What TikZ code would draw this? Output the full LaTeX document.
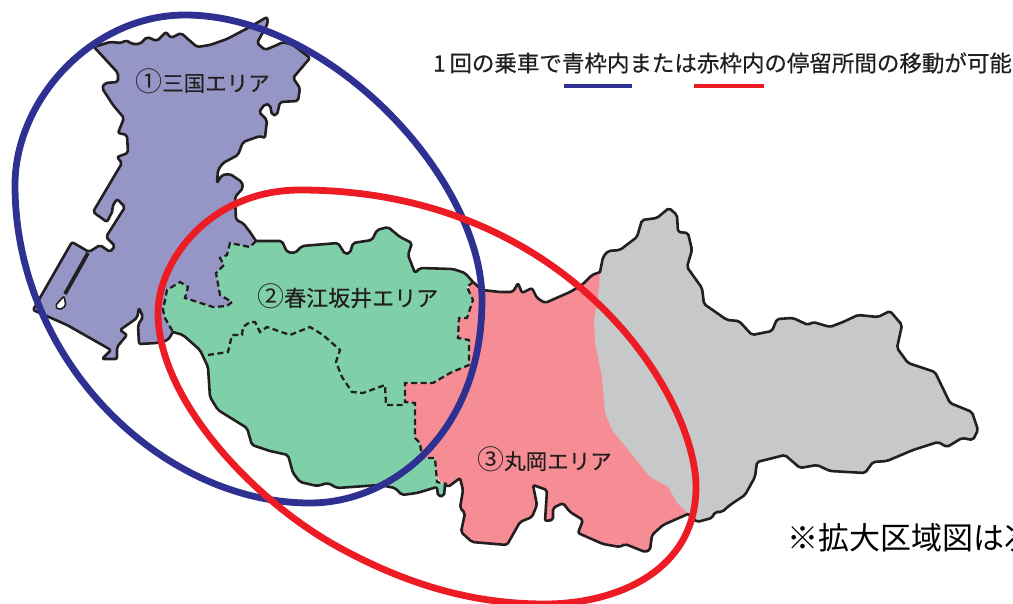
\documentclass[tikz,border=0pt]{standalone}
\usepackage{fontspec}
\setmainfont{Noto Sans CJK JP}
\newfontfamily\cjk{Noto Sans CJK JP}
\newfontfamily\cjkheavy[FakeBold=0.5]{Noto Sans CJK JP}
\definecolor{ringblue}{HTML}{2E3192}
\definecolor{ringred}{HTML}{ED1C24}
\definecolor{purplearea}{HTML}{9696C6}
\definecolor{greenarea}{HTML}{7FD0A8}
\definecolor{pinkarea}{HTML}{F78D94}
\definecolor{greyarea}{HTML}{C7C8CA}
\definecolor{ink}{HTML}{231F20}
\def\Ptop{(94,47) -- (110,42) -- (122,43) -- (126,40) -- (132,44) -- (140,44) -- (147,37) -- (157,41) -- (166,32) -- (171,38) -- (181,33) -- (197,47) -- (210,45) -- (227,39) -- (248,28) -- (267,17) -- (268,23) -- (257,43) -- (265,50) -- (277,45) -- (283,42) -- (293,45) -- (310,58) -- (293,78) -- (300,88) -- (298,101) -- (280,102) -- (277,115) -- (272,115) -- (270,105) -- (265,104) -- (259,112) -- (267,120) -- (265,138) -- (260,136) -- (243,142) -- (238,155) -- (223,163) -- (218,170) -- (217,183) -- (222,175) -- (230,174) -- (242,182) -- (243,188) -- (235,197) -- (236,220) -- (243,223) -- (250,232) -- (256,241)}
\def\Pdash{(256,241) -- (250,247) -- (230,243) -- (227,255) -- (220,258) -- (224,265) -- (216,273) -- (220,295) -- (232,302) -- (227,306) -- (213,307) -- (185,298) -- (188,287) -- (180,282) -- (167,290) -- (163,310) -- (165,318) -- (173,332)}
\def\Plow{(173,332) -- (168,340) -- (157,343) -- (139,344) -- (138,325) -- (143,317) -- (139,308) -- (137,318) -- (120,330) -- (127,335) -- (117,347) -- (117,359) -- (102,359) -- (111,350) -- (97,342) -- (67,325) -- (33,310) -- (72,242) -- (89,252) -- (100,245) -- (110,252) -- (115,246) -- (106,237) -- (125,207) -- (117,199) -- (112,207) -- (113,210) -- (107,222) -- (93,212) -- (122,163) -- (117,157) -- (128,153) -- (127,135) -- (118,133) -- (124,118) -- (113,105) -- (102,88) -- (105,83) -- (118,82) -- (118,73) -- (94,47)}
\def\Gtop{(256,241) -- (282,241) -- (287,252) -- (295,253) -- (302,246) -- (338,243) -- (345,254) -- (350,253) -- (353,243) -- (372,240) -- (377,230) -- (388,227) -- (400,237) -- (412,243) -- (408,255) -- (415,273) -- (420,268) -- (453,269) -- (465,273) -- (473,282)}
\def\GRdash{(473,282) -- (467,287) -- (473,300) -- (467,318) -- (459,318) -- (458,338) -- (469,340) -- (469,365) -- (450,373) -- (433,383) -- (405,383) -- (405,402) -- (415,403) -- (415,438) -- (420,443) -- (422,458) -- (435,458) -- (437,482) -- (447,484)}
\def\Gbot{(445,485) -- (444,496) -- (438,496) -- (437,487) -- (417,493) -- (402,495) -- (395,488) -- (380,485) -- (337,488) -- (328,483) -- (317,486) -- (300,482) -- (293,473) -- (288,455) -- (270,451) -- (252,445) -- (247,428) -- (218,410) -- (210,397) -- (208,367) -- (200,350) -- (183,335) -- (173,332)}
\def\Idash{(208,355) -- (228,352) -- (232,335) -- (242,335) -- (243,327) -- (250,322) -- (255,322) -- (260,332) -- (267,327) -- (290,335) -- (310,327) -- (323,335) -- (340,350) -- (336,362) -- (342,377) -- (352,392) -- (363,393) -- (385,385) -- (386,405) -- (405,405)}
\def\Rtop{(473,282) -- (482,290) -- (500,292) -- (513,292) -- (518,283) -- (522,293) -- (532,288) -- (537,298) -- (545,303) -- (570,292) -- (582,285) -- (592,275) -- (600,272)}
\def\Rgrey{(600,272) -- (598,297) -- (594,320) -- (595,343) -- (602,377) -- (605,413) -- (612,430) -- (650,477) -- (668,487) -- (677,503) -- (688,514)}
\def\Rbot{(688,514) -- (663,525) -- (652,535) -- (650,550) -- (645,552) -- (625,544) -- (620,547) -- (603,544) -- (578,533) -- (583,520) -- (570,512) -- (563,503) -- (553,508) -- (553,520) -- (545,521) -- (547,490) -- (533,485) -- (537,505) -- (532,517) -- (520,522) -- (507,545) -- (472,542) -- (461,532) -- (465,513) -- (460,508) -- (463,490) -- (460,478) -- (448,487) -- (445,485)}
\def\Grey{(600,272) -- (603,257) -- (608,251) -- (620,250) -- (637,237) -- (642,220) -- (657,218) -- (669,208) -- (677,215) -- (678,232) -- (688,233) -- (692,250) -- (687,267) -- (702,288) -- (704,304) -- (727,320) -- (739,321) -- (752,335) -- (772,331) -- (777,319) -- (793,318) -- (808,325) -- (813,322) -- (830,327) -- (843,322) -- (858,315) -- (878,317) -- (890,311) -- (902,325) -- (897,348) -- (908,363) -- (935,372) -- (950,403) -- (972,412) -- (978,430) -- (973,440) -- (962,438) -- (947,447) -- (938,442) -- (913,450) -- (887,461) -- (873,462) -- (865,473) -- (830,471) -- (817,465) -- (800,468) -- (785,455) -- (757,462) -- (755,477) -- (745,495) -- (730,505) -- (722,512) -- (715,512) -- (712,518) -- (697,522) -- (688,514)}
\newcommand{\bigdigit}[1]{{\fontsize{27pt}{27pt}\selectfont\cjk #1}}
\tikzset{
  x=1pt,y=-1pt,
  areaedge/.style={draw=ink,line width=2.6pt,rounded corners=2pt,line join=round,line cap=round},
  areadash/.style={draw=ink,line width=2.3pt,dash pattern=on 6pt off 3.5pt},
  ring/.style={line width=6.8pt},
  legendbar/.style={line width=4.5pt},
  arealabel/.style={anchor=west,text=ink,inner sep=0pt,font=\cjkheavy\fontsize{21.5pt}{24pt}\selectfont},
}
\begin{document}
\begin{tikzpicture}
\useasboundingbox (0,0) rectangle (1013,604);
\clip (0,0) rectangle (1013,604);
% fills, back to front
\fill[greyarea] \Grey -- (640,510) -- (580,400) -- cycle;
\fill[pinkarea] \Rtop -- \Rgrey -- \Rbot -- (395,440) -- (395,380) -- cycle;
\fill[greenarea] \Gtop -- \GRdash -- \Gbot -- (150,300) -- (235,235) -- cycle;
\fill[purplearea] \Ptop -- \Pdash -- \Plow -- cycle;
% outer edges
\draw[areaedge] \Ptop;
\draw[areaedge] \Plow;
\draw[areaedge] \Gtop;
\draw[areaedge] \Gbot;
\draw[areaedge] \Rtop;
\draw[areaedge] \Rbot;
\draw[areaedge] \Grey;
% inner boundaries
\draw[areadash] \Pdash;
\draw[areadash] \GRdash;
\draw[areadash] \Idash;
% canal
\draw[ink,line width=3.8pt] (88,253) -- (65,294);
\fill[white,draw=ink,line width=1.6pt,rounded corners=2pt] (64,296) -- (55,306) -- (59,310) -- (66,306) -- cycle;
% rings
\draw[ring,ringblue] (185,15) .. controls (330,15) and (482,179) .. (482,300)
  .. controls (482,432) and (393,503) .. (310,503)
  .. controls (162,503) and (15,361) .. (15,185)
  .. controls (15,100) and (92,15) .. (185,15) -- cycle;
\draw[ring,ringred] (300,190) .. controls (570,190) and (696,397) .. (696,487)
  .. controls (696,572) and (615,604) .. (545,604)
  .. controls (475,604) and (410,586) .. (340,548)
  .. controls (255,502) and (158,400) .. (158,313)
  .. controls (158,261) and (210,190) .. (300,190) -- cycle;
% labels
\node[arealabel] (area1) at (135,81) {\bigdigit{①}三国エリア};
\node[arealabel,font=\cjkheavy\fontsize{22pt}{24pt}\selectfont] (area2) at (257,296) {\bigdigit{②}春江坂井エリア};
\node[arealabel] (area3) at (477,459) {\bigdigit{③}丸岡エリア};
\node[anchor=west,inner sep=0pt,text=ink,font=\cjkheavy\fontsize{22.5pt}{26pt}\selectfont] (head) at (433,63) {1\,回の乗車で青枠内または赤枠内の停留所間の移動が可能};
\draw[legendbar,ringblue] (564,86) -- (632,86);
\draw[legendbar,ringred] (694,86) -- (764,86);
\node[anchor=west,inner sep=0pt,text=black,font=\cjk\fontsize{31pt}{34pt}\selectfont] (note) at (787,538) {※拡大区域図は次};
\end{tikzpicture}
\end{document}
